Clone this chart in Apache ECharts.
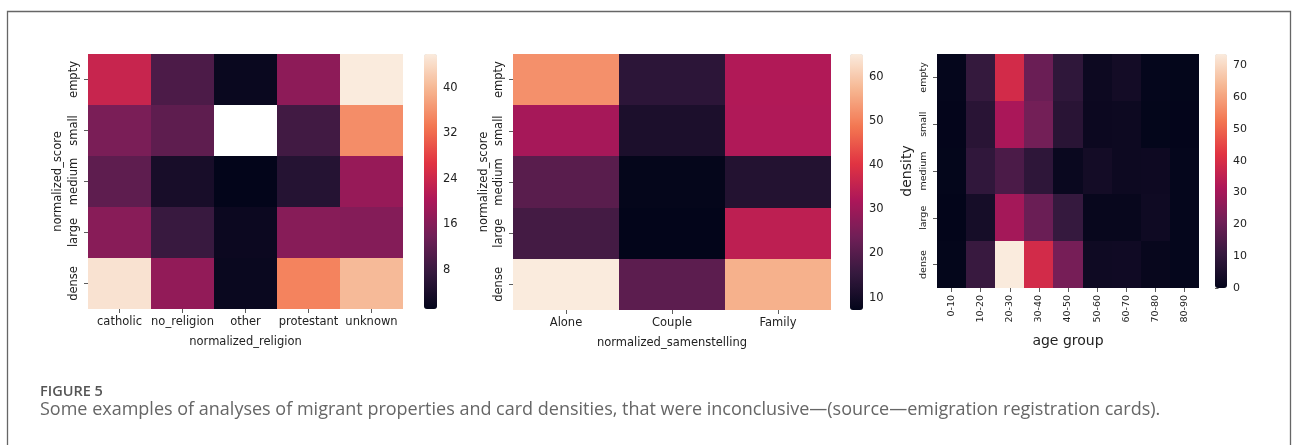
<!DOCTYPE html>
<html>
<head>
<meta charset="utf-8">
<title>Figure 5</title>
<script src="https://cdn.jsdelivr.net/npm/echarts@6/dist/echarts.min.js"></script>
<style>
  html, body { margin: 0; padding: 0; background: #ffffff; }
  #chart { width: 1293px; height: 445px; }
</style>
</head>
<body>
<div id="chart"></div>
<script>
// Row categories shared by all three heatmaps (top to bottom)
const scoreCats = ['empty', 'small', 'medium', 'large', 'dense'];

// Panel 1: normalized_religion
const religionCats = ['catholic', 'no_religion', 'other', 'protestant', 'unknown'];
const religionValues = [
  [23.5, 10.0, 2.0, 17.0, 46.0],
  [15.0, 12.0, null, 8.8, 35.5],
  [12.0, 3.8, 1.1, 5.5, 18.0],
  [16.5, 7.8, 2.2, 16.3, 16.0],
  [45.0, 17.5, 2.0, 34.5, 40.3]
];
const religionTicks = [8, 16, 24, 32, 40];

// Panel 2: normalized_samenstelling
const samenCats = ['Alone', 'Couple', 'Family'];
const samenValues = [
  [52.0, 14.0, 32.7],
  [31.0, 11.3, 32.5],
  [20.5, 7.5, 12.5],
  [17.6, 7.2, 34.5],
  [65.1, 21.0, 56.4]
];
const samenTicks = [10, 20, 30, 40, 50, 60];

// Panel 3: age group vs density
const ageCats = ['0-10', '10-20', '20-30', '30-40', '40-50', '50-60', '60-70', '70-80', '80-90'];
const ageValues = [
  [0.5, 10.3, 39.0, 20.0, 9.3, 2.0, 3.5, 0.5, 0.3],
  [0.2, 8.0, 31.0, 21.5, 8.0, 1.8, 2.0, 0.3, 0.2],
  [0.3, 9.5, 14.5, 9.0, 1.5, 3.5, 2.0, 2.3, 0.5],
  [0.0, 4.0, 30.0, 20.0, 10.5, 1.0, 1.0, 2.5, 0.5],
  [0.3, 11.0, 73.5, 39.0, 22.0, 2.5, 2.8, 1.0, 0.5]
];
const ageTicks = [0, 10, 20, 30, 40, 50, 60, 70];

// seaborn "rocket" colormap stops (evenly spaced)
const rocket = ['#03051A', '#35193E', '#701F57', '#AD1759', '#E13342', '#F37651', '#F6B48F', '#FAEBDD'];

const FONT = 'DejaVu Sans';
const TEXT = '#222222';
const TICK = { color: '#333333', width: 0.8 };

function cells(rows) {
  const out = [];
  rows.forEach((row, i) => row.forEach((v, j) => { if (v !== null) out.push([j, i, v]); }));
  return out;
}
function extent(rows) {
  const flat = rows.flat().filter(v => v !== null);
  return [Math.min(...flat), Math.max(...flat)];
}

// Cells drawn with edges snapped to whole pixels so neighbours meet cleanly
function renderCell(params, api) {
  const c = api.coord([api.value(0), api.value(1)]);
  const s = api.size([1, 1]);
  const x0 = Math.round(c[0] - s[0] / 2), x1 = Math.round(c[0] + s[0] / 2);
  const y0 = Math.round(c[1] - s[1] / 2), y1 = Math.round(c[1] + s[1] / 2);
  return {
    type: 'rect',
    shape: { x: x0, y: y0, width: x1 - x0, height: y1 - y0 },
    style: { fill: api.visual('color') }
  };
}

const panels = [
  { cats: religionCats, rows: religionValues, ticks: religionTicks, xName: 'normalized_religion', yName: 'normalized_score',
    grid: { left: 88, top: 54, width: 315, height: 255 }, bar: { left: 424, top: 54, width: 13, height: 255 },
    tickFont: 11.5, nameFont: 11.5, barFont: 11.5, xRotate: 0, xMargin: 7, yMargin: 8, xGap: 27, yGap: 24 },
  { cats: samenCats, rows: samenValues, ticks: samenTicks, xName: 'normalized_samenstelling', yName: 'normalized_score',
    grid: { left: 513, top: 54, width: 318, height: 256 }, bar: { left: 850, top: 54, width: 13, height: 256 },
    tickFont: 11.5, nameFont: 11.5, barFont: 11.5, xRotate: 0, xMargin: 7, yMargin: 8, xGap: 27, yGap: 23 },
  { cats: ageCats, rows: ageValues, ticks: ageTicks, xName: 'age group', yName: 'density',
    grid: { left: 937, top: 54, width: 262, height: 234 }, bar: { left: 1215, top: 54, width: 12, height: 234 },
    tickFont: 9.5, nameFont: 14, barFont: 11, xRotate: 90, xMargin: 7, yMargin: 8, xGap: 46, yGap: 23 }
];

const grid = [], xAxis = [], yAxis = [], series = [], visualMap = [];

panels.forEach((p, k) => {
  const [lo, hi] = extent(p.rows);
  grid.push(Object.assign({}, p.grid));
  xAxis.push({
    gridIndex: k, type: 'category', data: p.cats,
    axisLine: { show: false },
    axisTick: { show: true, alignWithLabel: true, length: 4, lineStyle: TICK },
    axisLabel: { fontFamily: FONT, fontSize: p.tickFont, color: TEXT, margin: p.xMargin, rotate: p.xRotate, interval: 0 },
    splitLine: { show: false },
    name: p.xName, nameLocation: 'middle', nameGap: p.xGap,
    nameTextStyle: { fontFamily: FONT, fontSize: p.nameFont, color: TEXT }
  });
  yAxis.push({
    gridIndex: k, type: 'category', data: scoreCats, inverse: true,
    axisLine: { show: false },
    axisTick: { show: true, alignWithLabel: true, length: 4, lineStyle: TICK },
    axisLabel: { fontFamily: FONT, fontSize: p.tickFont, color: TEXT, margin: p.yMargin, rotate: 90, interval: 0 },
    splitLine: { show: false },
    name: p.yName, nameLocation: 'middle', nameGap: p.yGap,
    nameTextStyle: { fontFamily: FONT, fontSize: p.nameFont, color: TEXT }
  });
  series.push({
    type: 'custom', xAxisIndex: k, yAxisIndex: k,
    data: cells(p.rows),
    encode: { x: 0, y: 1 },
    renderItem: renderCell,
    silent: true
  });
  visualMap.push({
    type: 'continuous', seriesIndex: k, dimension: 2,
    min: lo, max: hi, calculable: false, hoverLink: false,
    inRange: { color: rocket },
    orient: 'vertical', left: p.bar.left, top: p.bar.top,
    itemWidth: p.bar.width, itemHeight: p.bar.height, padding: 0
  });
  p.lo = lo; p.hi = hi;
});

// colorbar scales
panels.forEach((p, k) => {
  const gi = grid.length;
  grid.push(Object.assign({}, p.bar));
  xAxis.push({ gridIndex: gi, type: 'value', show: false, min: 0, max: 1 });
  yAxis.push({
    gridIndex: gi, type: 'value', position: 'right', min: p.lo, max: p.hi,
    axisLine: { show: false },
    splitLine: { show: false },
    axisTick: { show: true, length: 3.5, lineStyle: TICK, customValues: p.ticks },
    axisLabel: { fontFamily: FONT, fontSize: p.barFont, color: TEXT, margin: 6, customValues: p.ticks }
  });
});

const chart = echarts.init(document.getElementById('chart'), null, { renderer: 'canvas' });
chart.setOption({
  animation: false,
  backgroundColor: '#ffffff',
  title: [
    { text: 'FIGURE 5', left: 40, top: 384,
      textStyle: { fontFamily: 'Open Sans', fontSize: 14.5, fontWeight: 600, color: '#555555' }, padding: 0 },
    { text: 'Some examples of analyses of migrant properties and card densities, that were inconclusive\u2014(source\u2014emigration registration cards).',
      left: 40, top: 401,
      textStyle: { fontFamily: 'Open Sans', fontSize: 18, fontWeight: 400, color: '#666666' }, padding: 0 }
  ],
  graphic: [
    { type: 'rect', shape: { x: 7.5, y: 11.5, width: 1283, height: 460 }, style: { fill: null, stroke: '#666666', lineWidth: 1.3 }, silent: true }
  ],
  grid, xAxis, yAxis, visualMap, series
});
</script>
</body>
</html>
